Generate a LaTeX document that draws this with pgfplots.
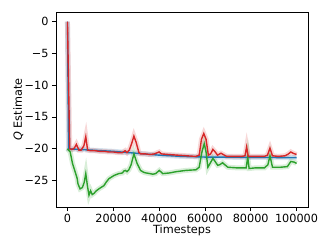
\documentclass[border=0pt]{standalone}
\usepackage{fontspec}
\setmainfont{DejaVu Sans}
\usepackage{pgfplots}
\pgfplotsset{compat=1.18}
\definecolor{tblue}{HTML}{1F77B4}
\definecolor{tgreen}{HTML}{2CA02C}
\definecolor{tred}{HTML}{D62728}
\pgfplotstableread{
x y
0 0
500 -20
10000 -20.2
20000 -20.4
30000 -20.7
40000 -21.0
50000 -21.2
60000 -21.3
100000 -21.4
}\blue
\pgfplotstableread{
x y
0 -20
1200 -20.5
2200 -22.3
3600 -23.9
4200 -24.6
4600 -25.5
5500 -26.3
6500 -26.1
7300 -25.3
8000 -23.9
8700 -25.8
9400 -27.3
10100 -26.6
10800 -27.2
11600 -27.0
12600 -26.6
13700 -26.3
15000 -26.0
15900 -25.8
17000 -25.2
18100 -24.7
20300 -24.2
22400 -23.9
24000 -23.8
24600 -23.5
25300 -23.4
26000 -23.6
26800 -23.3
27800 -22.5
29000 -20.8
30400 -22.3
31900 -23.4
33300 -23.7
34300 -23.8
36000 -23.9
37200 -24.0
38500 -23.9
40100 -23.4
41600 -23.9
44500 -23.8
47400 -23.6
51700 -23.4
56100 -23.3
57500 -22.9
58700 -20.5
59700 -19.2
60500 -20.5
61300 -22.9
63500 -21.5
65600 -22.6
66500 -22.5
67700 -22.2
70000 -22.9
74000 -23.0
78000 -23.0
78700 -21.3
79300 -23.1
82000 -23.0
86000 -23.0
87500 -22.5
88400 -21.1
89500 -22.9
93000 -22.9
96000 -22.8
97500 -22.0
99000 -22.1
100000 -22.3
}\green
\pgfplotstableread{
x y
0 0
1000 -20.0
2000 -20.1
3000 -19.9
3900 -19.3
5000 -20.2
6000 -20.2
7200 -19.5
8000 -18.1
8800 -20.2
10000 -20.3
12000 -20.3
14000 -20.4
16000 -20.4
18000 -20.5
20000 -20.5
22000 -20.6
24000 -20.6
25200 -20.3
26000 -20.6
27000 -20.2
28000 -19.2
29000 -18.0
30000 -19.0
31200 -20.6
32000 -20.8
34000 -20.8
36000 -20.9
38000 -20.8
40000 -20.5
41000 -20.8
44000 -20.9
48000 -21.0
52000 -21.1
56000 -21.2
57500 -21.0
58500 -18.5
59500 -17.6
60500 -18.5
61500 -21.0
62500 -20.8
63500 -20.1
64500 -20.5
65500 -21.0
67000 -20.7
68000 -20.9
69500 -21.2
72000 -21.2
76000 -21.2
77500 -21.1
78200 -19.7
78900 -21.2
82000 -21.2
86000 -21.2
87300 -21.0
88400 -19.9
89500 -21.1
92000 -21.2
95000 -21.1
96500 -20.8
97500 -20.5
98500 -20.7
100000 -20.9
}\red
\begin{document}
\begin{tikzpicture}
\begin{axis}[
  scale only axis, width=252bp, height=195bp,
  xmin=-5000, xmax=105000, ymin=-29.15, ymax=1.5,
  xtick={0,20000,40000,60000,80000,100000},
  xticklabels={0,20000,40000,60000,80000,100000},
  scaled x ticks=false,
  ytick={-25,-20,-15,-10,-5,0},
  yticklabels={−25,−20,−15,−10,−5,0},
  tick pos=left, tick align=outside, major tick length=4bp,
  tick style={black, line width=0.8bp},
  axis line style={line width=0.8bp},
  tick label style={font=\fontsize{11.3}{13}\selectfont},
  every axis x label/.style={at={(axis description cs:0.5,-0.12)}, anchor=center, font=\fontsize{11.3}{13}\selectfont},
  every axis y label/.style={at={(axis description cs:-0.15,0.5)}, rotate=90, anchor=center, font=\fontsize{11.3}{13}\selectfont},
  xlabel={Timesteps}, ylabel={\textit{Q} Estimate},
  clip=true,
]
\addplot[tblue, line width=5bp, opacity=0.18] table {\blue};
\addplot[tgreen, line width=5bp, opacity=0.18] table {\green};
\addplot[tred, line width=5bp, opacity=0.18] table {\red};
\addplot[tblue, line width=1.4bp] table {\blue};
\addplot[tgreen, line width=1.4bp] table {\green};
\addplot[tred, line width=1.4bp] table {\red};
\end{axis}
\path (current axis.south west) ++(-56bp,-42bp) coordinate (bl);
\path (current axis.north east) ++(24bp,12bp) coordinate (tr);
\end{tikzpicture}
\end{document}
